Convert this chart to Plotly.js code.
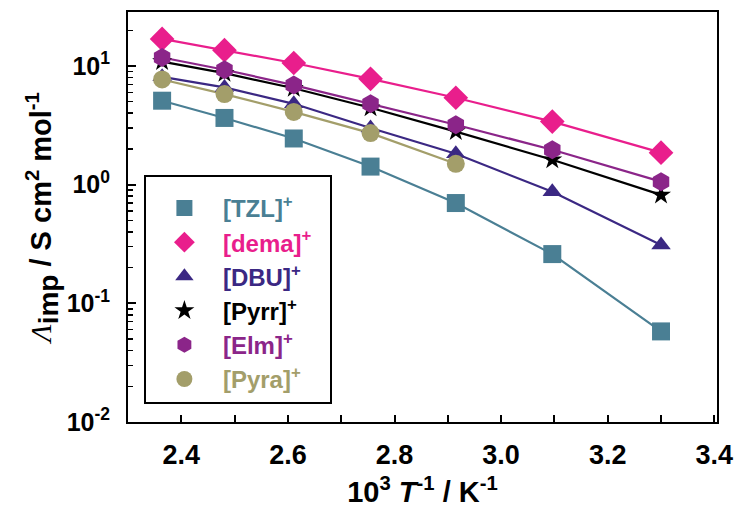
<!DOCTYPE html>
<html>
<head>
<meta charset="utf-8">
<script src="https://cdn.plot.ly/plotly-3.0.1.min.js"></script>
<style>html,body{margin:0;padding:0;background:#fff;}#chart{width:739px;height:518px;}</style>
</head>
<body>
<div id="chart"></div>
<script>
// 10^3 T^-1 / K^-1
const invT = [2.364, 2.481, 2.611, 2.755, 2.915, 3.096, 3.300];
const invTPyra = [2.364, 2.481, 2.611, 2.755, 2.915];

const cationNames = ['TZL', 'dema', 'DBU', 'Pyrr', 'Elm', 'Pyra'];
const valTZL  = [5.1, 3.65, 2.45, 1.42, 0.70, 0.26, 0.058];
const valDema = [16.9, 13.6, 10.6, 7.8, 5.4, 3.4, 1.86];
const valDBU  = [8.1, 6.6, 4.8, 3.0, 1.82, 0.87, 0.31];
const valPyrr = [10.9, 8.7, 6.5, 4.45, 2.8, 1.62, 0.82];
const valElm  = [11.8, 9.3, 6.9, 4.8, 3.2, 1.97, 1.06];
const valPyra = [7.7, 5.8, 4.1, 2.72, 1.5];

const yTickVals = [0.01, 0.1, 1, 10];
const yTickText = ['10<sup>-2</sup>', '10<sup>-1</sup>', '10<sup>0</sup>', '10<sup>1</sup>'];
const xTickVals = [2.4, 2.6, 2.8, 3.0, 3.2, 3.4];
const xTickText = ['2.4', '2.6', '2.8', '3.0', '3.2', '3.4'];
const xMinorVals = [2.5, 2.7, 2.9, 3.1, 3.3];

const seriesX = [invT, invT, invT, invT, invT, invTPyra];
const seriesY = [valTZL, valDema, valDBU, valPyrr, valElm, valPyra];
const colors  = ['#4a7f94', '#e91e8c', '#3b2883', '#000000', '#8b2589', '#a39e6a'];
const symbols = ['square', 'diamond', 'triangle-up', 'star', 'hexagon', 'circle'];
const sizes   = [18, 19, 17, 15, 19, 18];

const traces = [];
for (let i = 0; i < cationNames.length; i++) {
  traces.push({
    x: seriesX[i], y: seriesY[i], type: 'scatter', mode: 'lines',
    line: {color: colors[i], width: 2.2}, showlegend: false, hoverinfo: 'skip'
  });
}
for (let i = 0; i < cationNames.length; i++) {
  traces.push({
    x: seriesX[i], y: seriesY[i], type: 'scatter', mode: 'markers',
    name: '<span style="color:' + colors[i] + '">[' + cationNames[i] + ']<sup>+</sup></span>\u00A0\u00A0',
    legendgroup: 'g' + i,
    marker: {color: colors[i], symbol: symbols[i], size: sizes[i], line: {width: 0}}
  });
}

const FONT = 'Liberation Sans, Arial, sans-serif';
const layout = {
  width: 739, height: 518,
  margin: {l: 128, r: 22, t: 12, b: 96},
  paper_bgcolor: '#fff', plot_bgcolor: '#fff',
  font: {family: FONT, color: '#000', weight: 'bold'},
  showlegend: true,
  legend: {
    x: 0.027, y: 0.603, xanchor: 'left', yanchor: 'top',
    bordercolor: '#000', borderwidth: 2, bgcolor: '#fff',
    font: {family: FONT, size: 24, weight: 'bold'},
    title: {text: ' ', font: {size: 7}},
    tracegroupgap: 0, itemwidth: 67
  },
  xaxis: {
    range: [2.3, 3.405], tickmode: 'array',
    tickvals: xTickVals, ticktext: xTickText,
    ticks: 'inside', ticklen: 7, tickwidth: 2, tickcolor: '#000',
    minor: {tickvals: xMinorVals, ticks: 'inside', ticklen: 7, tickwidth: 2, tickcolor: '#000'},
    showline: true, linecolor: '#000', linewidth: 2, mirror: true,
    showgrid: false, zeroline: false,
    ticklabelstandoff: 8,
    tickfont: {family: FONT, size: 27, weight: 'bold'},
    title: {text: '10<sup>3</sup> <i>T</i><sup>-1</sup> / K<sup>-1</sup>', font: {family: FONT, size: 29, weight: 'bold'}, standoff: 12}
  },
  yaxis: {
    type: 'log', range: [-2, 1.455],
    tickmode: 'array', tickvals: yTickVals, ticktext: yTickText,
    ticks: 'inside', ticklen: 8, tickwidth: 2, tickcolor: '#000',
    minor: {dtick: 'D1', ticks: 'inside', ticklen: 5, tickwidth: 1.5, tickcolor: '#000'},
    showline: true, linecolor: '#000', linewidth: 2, mirror: true,
    showgrid: false, zeroline: false,
    ticklabelstandoff: 11,
    tickfont: {family: FONT, size: 25, weight: 'bold'},
    title: {text: '<span style="font-family:Liberation Serif;font-style:italic;font-weight:normal">Λ</span><sub><span style="font-size:28px">imp</span></sub> / S cm<sup>2</sup> mol<sup>-1</sup>', font: {family: FONT, size: 29, weight: 'bold'}, standoff: 6}
  }
};

Plotly.newPlot('chart', traces, layout, {staticPlot: true, displayModeBar: false});
</script>
</body>
</html>
